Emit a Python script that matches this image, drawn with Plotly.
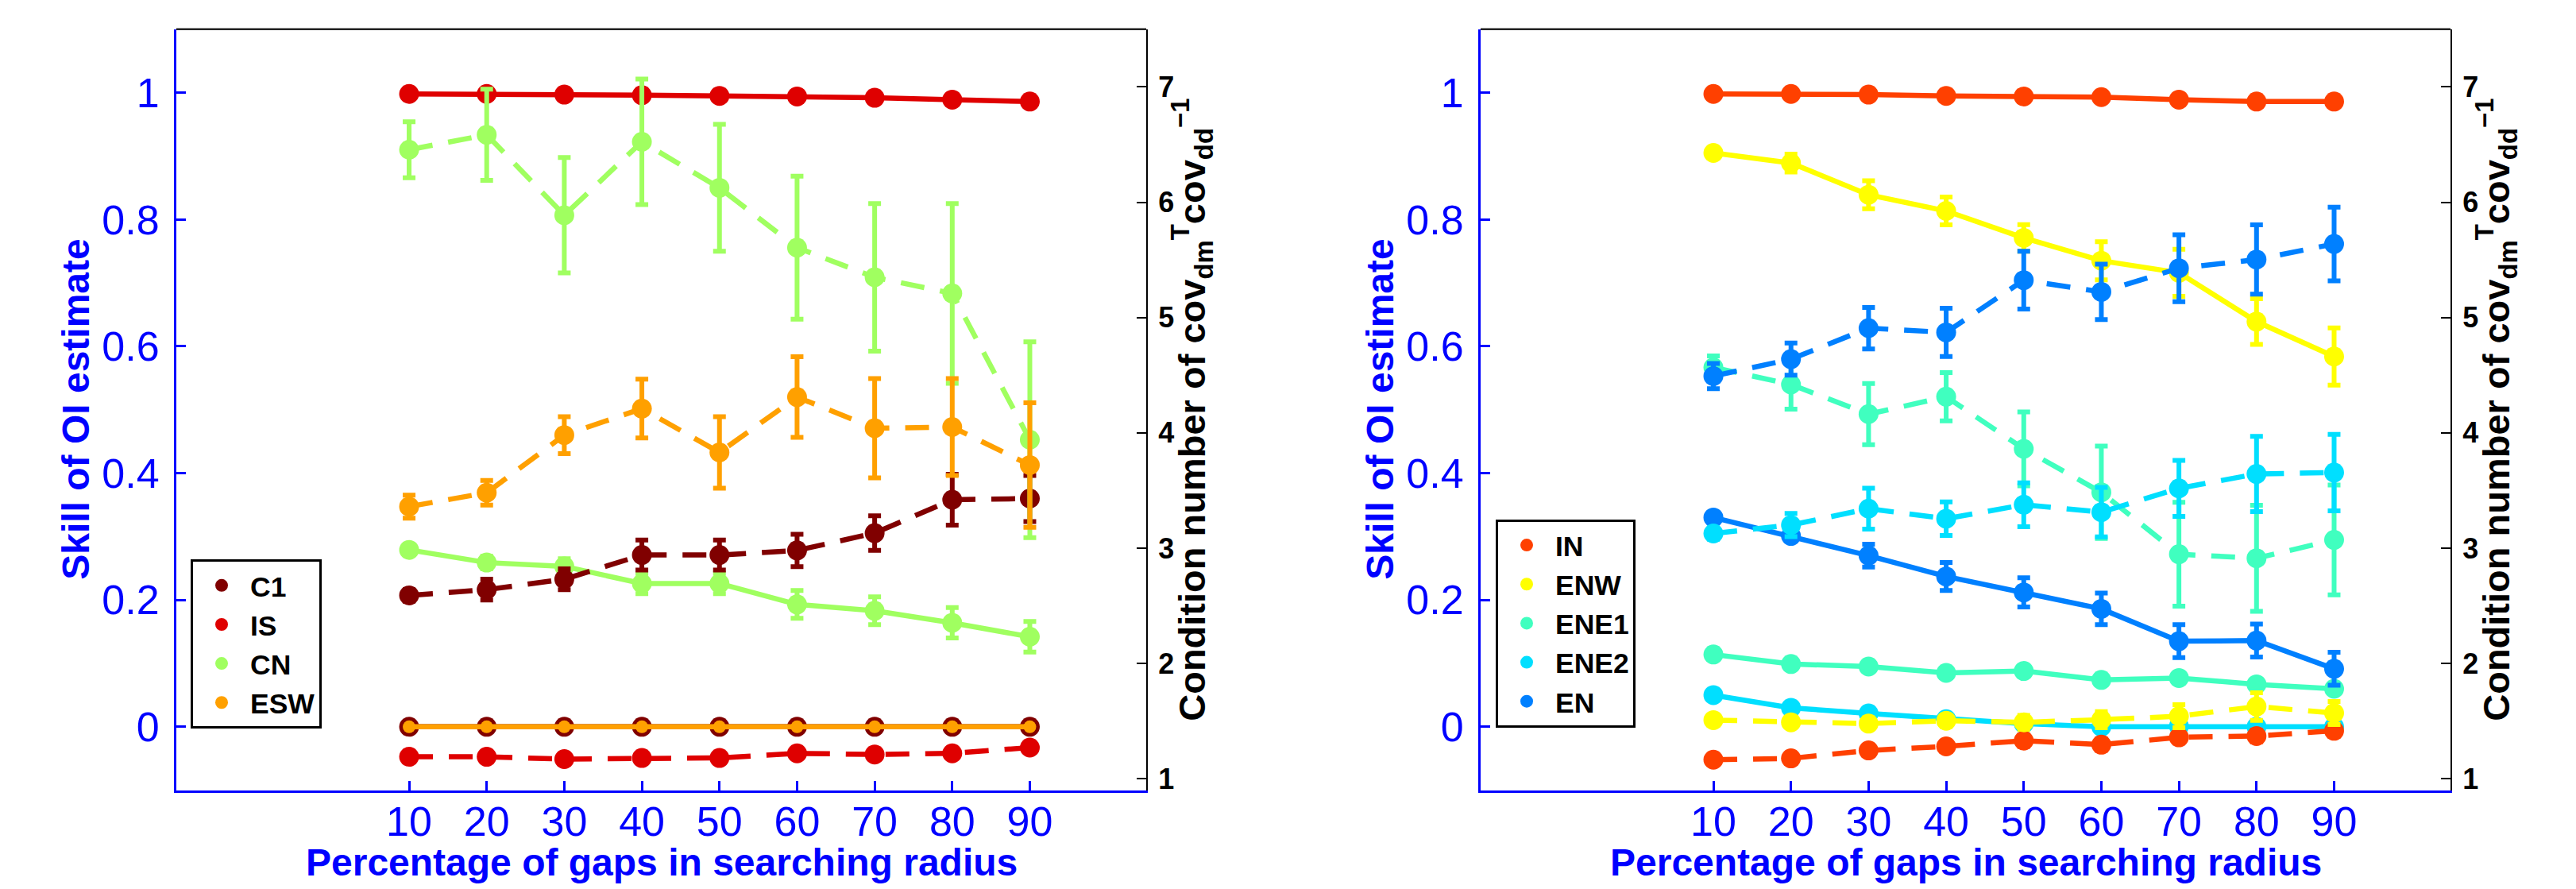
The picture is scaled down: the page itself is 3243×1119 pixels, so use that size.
import plotly.graph_objects as go

W, H = 3243, 1119

# ---------------- data ----------------
gaps = [10, 20, 30, 40, 50, 60, 70, 80, 90]
skill_ticks = [0, 0.2, 0.4, 0.6, 0.8, 1]
skill_ticktext = ["0", "0.2", "0.4", "0.6", "0.8", "1"]
cond_ticks = [1, 2, 3, 4, 5, 6, 7]
cond_ticktext = ["1", "2", "3", "4", "5", "6", "7"]

# left panel: skill (solid, left axis) and condition number (dashed, right axis)
left_names = ["C1", "IS", "CN", "ESW"]
left_colors = ["#800000", "#DF0000", "#A0FF60", "#FFA000"]

C1_skill = [0, 0, 0, 0, 0, 0, 0, 0, 0]
IS_skill = [0.998, 0.998, 0.997, 0.996, 0.995, 0.994, 0.992, 0.989, 0.986]
CN_skill = [0.279, 0.259, 0.253, 0.226, 0.226, 0.193, 0.183, 0.164, 0.142]
CN_skill_err = [0.008, 0.010, 0.012, 0.016, 0.016, 0.022, 0.022, 0.024, 0.024]
ESW_skill = [0, 0, 0, 0, 0, 0, 0, 0, 0]

C1_cond = [2.59, 2.64, 2.73, 2.94, 2.94, 2.98, 3.13, 3.42, 3.43]
C1_cond_err = [0.05, 0.09, 0.09, 0.13, 0.13, 0.14, 0.15, 0.22, 0.20]
IS_cond = [1.19, 1.19, 1.17, 1.18, 1.18, 1.22, 1.21, 1.22, 1.27]
CN_cond = [6.455, 6.585, 5.887, 6.524, 6.125, 5.606, 5.349, 5.209, 3.94]
CN_cond_err = [0.243, 0.395, 0.50, 0.545, 0.55, 0.62, 0.64, 0.78, 0.85]
ESW_cond = [3.36, 3.48, 3.98, 4.21, 3.83, 4.31, 4.04, 4.05, 3.72]
ESW_cond_err = [0.10, 0.107, 0.16, 0.255, 0.31, 0.35, 0.43, 0.42, 0.54]

# right panel
right_names = ["IN", "ENW", "ENE1", "ENE2", "EN"]
right_colors = ["#FF4000", "#FFFF00", "#40FFBF", "#00DFFF", "#0080FF"]

IN_skill = [0.998, 0.998, 0.997, 0.995, 0.994, 0.993, 0.989, 0.986, 0.986]
ENW_skill = [0.905, 0.889, 0.839, 0.8135, 0.771, 0.735, 0.716, 0.639, 0.584]
ENW_skill_err = [0.008, 0.014, 0.022, 0.022, 0.021, 0.030, 0.037, 0.036, 0.045]
ENE1_skill = [0.114, 0.099, 0.095, 0.085, 0.088, 0.074, 0.077, 0.067, 0.060]
ENE2_skill = [0.050, 0.030, 0.021, 0.012, 0.005, 0.000, 0.001, 0.000, 0.000]
EN_skill = [0.330, 0.301, 0.270, 0.237, 0.212, 0.186, 0.135, 0.136, 0.0915]
EN_skill_err = [0.004, 0.008, 0.018, 0.022, 0.023, 0.025, 0.026, 0.026, 0.026]

IN_cond = [1.165, 1.176, 1.245, 1.28, 1.33, 1.295, 1.359, 1.37, 1.416]
IN_cond_err = [0.03, 0.03, 0.04, 0.04, 0.05, 0.05, 0.05, 0.05, 0.05]
ENW_cond = [1.508, 1.489, 1.478, 1.503, 1.489, 1.512, 1.542, 1.626, 1.569]
ENW_cond_err = [0.04, 0.04, 0.04, 0.05, 0.06, 0.07, 0.10, 0.12, 0.10]
ENE1_cond = [4.567, 4.419, 4.162, 4.313, 3.861, 3.484, 2.947, 2.912, 3.071]
ENE1_cond_err = [0.10, 0.214, 0.265, 0.21, 0.32, 0.40, 0.45, 0.46, 0.476]
ENE2_cond = [3.127, 3.20, 3.342, 3.255, 3.376, 3.312, 3.518, 3.643, 3.655]
ENE2_cond_err = [0.05, 0.10, 0.177, 0.146, 0.19, 0.215, 0.243, 0.326, 0.331]
EN_cond = [4.492, 4.639, 4.908, 4.871, 5.324, 5.222, 5.427, 5.503, 5.638]
EN_cond_err = [0.11, 0.14, 0.18, 0.21, 0.25, 0.24, 0.29, 0.30, 0.32]

left_skill = [C1_skill, IS_skill, CN_skill, ESW_skill]
left_skill_err = [None, None, CN_skill_err, None]
left_cond = [C1_cond, IS_cond, CN_cond, ESW_cond]
left_cond_err = [C1_cond_err, None, CN_cond_err, ESW_cond_err]

right_skill = [IN_skill, ENW_skill, ENE1_skill, ENE2_skill, EN_skill]
right_skill_err = [None, ENW_skill_err, None, None, EN_skill_err]
right_cond = [IN_cond, ENW_cond, ENE1_cond, ENE2_cond, EN_cond]
right_cond_err = [IN_cond_err, ENW_cond_err, ENE1_cond_err, ENE2_cond_err, EN_cond_err]

# ---------------- style ----------------
FONT = "Liberation Sans, Arial, Helvetica, sans-serif"
BLUE = "#0000FF"
LW = 6.5
MS = 25
DASH = "30px,20px"

fig = go.Figure()


def err(arr, color):
    if arr is None:
        return dict(visible=False)
    return dict(type="data", array=arr, visible=True, color=color,
                thickness=6, width=8)


def add_panel(names, colors, skills, skill_errs, conds, cond_errs,
              xa, ya, ya2, legend, small_marker_name=None):
    # solid (skill) traces on left axis
    for n, c, s, e in zip(names, colors, skills, skill_errs):
        ms = 16 if n == small_marker_name else MS
        fig.add_trace(go.Scatter(
            x=gaps, y=s, mode="lines+markers", name=n, showlegend=False,
            line=dict(color=c, width=LW), marker=dict(color=c, size=ms),
            error_y=err(e, c), xaxis=xa, yaxis=ya))
    # dashed (condition number) traces on right axis
    for n, c, s, e in zip(names, colors, conds, cond_errs):
        fig.add_trace(go.Scatter(
            x=gaps, y=s, mode="lines+markers", name=n, showlegend=False,
            line=dict(color=c, width=LW, dash=DASH), marker=dict(color=c, size=MS),
            error_y=err(e, c), xaxis=xa, yaxis=ya2))
    # legend entries (markers only)
    for n, c in zip(names, colors):
        fig.add_trace(go.Scatter(
            x=[None], y=[None], mode="markers", name=n, showlegend=True,
            marker=dict(color=c, size=MS), xaxis=xa, yaxis=ya, legend=legend))


add_panel(left_names, left_colors, left_skill, left_skill_err, left_cond,
          left_cond_err, "x", "y", "y2", "legend", small_marker_name="ESW")
add_panel(right_names, right_colors, right_skill, right_skill_err, right_cond,
          right_cond_err, "x3", "y3", "y4", "legend2")

# ---------------- layout ----------------
ydom = [1 - 992 / H, 1 - 29 / H]
xdom1 = [214 / W, 1435 / W]
xdom2 = [1856 / W, 3077 / W]

xcommon = dict(range=[-20, 105], tickvals=gaps, ticks="inside", ticklen=12,
               tickwidth=2.5, tickcolor=BLUE, showline=True, linecolor=BLUE,
               linewidth=3, showgrid=False, zeroline=False,
               tickfont=dict(family=FONT, size=52, color=BLUE))
ycommon = dict(range=[-0.1, 1.1], domain=ydom, tickvals=skill_ticks,
               ticktext=skill_ticktext, ticks="inside", ticklen=12,
               tickwidth=2.5, tickcolor=BLUE, showline=True, linecolor=BLUE,
               linewidth=3, showgrid=False, zeroline=False,
               tickfont=dict(family=FONT, size=52, color=BLUE),
               ticklabelstandoff=8)
y2common = dict(range=[0.9, 7.5], tickvals=cond_ticks, ticktext=cond_ticktext,
                side="right", ticks="inside", ticklen=12, tickwidth=2,
                tickcolor="black", showline=True, linecolor="black",
                linewidth=2, showgrid=False, zeroline=False,
                tickfont=dict(family=FONT, size=36, color="black", weight="bold"),
                ticklabelstandoff=6)

legend_font = dict(family=FONT, size=35.5, color="black", weight="bold")
fig.update_layout(
    width=W, height=H, autosize=False,
    margin=dict(l=0, r=0, t=0, b=0),
    paper_bgcolor="white", plot_bgcolor="white",
    xaxis=dict(domain=xdom1, anchor="y", **xcommon),
    yaxis=dict(anchor="x", **ycommon),
    yaxis2=dict(anchor="x", overlaying="y", **y2common),
    xaxis3=dict(domain=xdom2, anchor="y3", **xcommon),
    yaxis3=dict(anchor="x3", **ycommon),
    yaxis4=dict(anchor="x3", overlaying="y3", **y2common),
    legend=dict(x=232 / W, y=1 - 700 / H, xanchor="left", yanchor="top",
                bgcolor="white", bordercolor="black", borderwidth=3,
                font=legend_font, itemwidth=62, traceorder="normal"),
    legend2=dict(x=1875 / W, y=1 - 649 / H, xanchor="left", yanchor="top",
                 bgcolor="white", bordercolor="black", borderwidth=3,
                 font=legend_font, itemwidth=62, traceorder="normal"),
    showlegend=True,
)

# pull the x tick labels up closer to the axis
try:
    fig.update_layout(xaxis_ticklabelstandoff=-8, xaxis3_ticklabelstandoff=-8)
except Exception:
    fig.update_layout(xaxis_ticklabelstandoff=0, xaxis3_ticklabelstandoff=0)

# top borders of both axes boxes
for xr, yr in [("x domain", "y domain"), ("x3 domain", "y3 domain")]:
    fig.add_shape(type="line", xref=xr, yref=yr, x0=0, x1=1, y0=1, y1=1,
                  line=dict(color="#222222", width=2.5))

# axis titles
title_font_blue = dict(family=FONT, size=48, color=BLUE, weight="bold")
title_font_black = dict(family=FONT, size=47, color="black", weight="bold")
cond_title = "Condition number of cov<sub>dm</sub><sup>T</sup>cov<sub>dd</sub><sup>\u22121</sup>"
for off in [0, 1642]:
    fig.add_annotation(text="Skill of OI estimate", x=(88 + off) / W, y=1 - 510.5 / H,
                       xref="paper", yref="paper", textangle=-90, showarrow=False,
                       xanchor="center", yanchor="middle", font=title_font_blue)
    fig.add_annotation(text=cond_title, x=(1493 + off) / W, y=1 - 510.5 / H,
                       xref="paper", yref="paper", textangle=-90, showarrow=False,
                       xanchor="center", yanchor="middle", font=title_font_black)
    fig.add_annotation(text="Percentage of gaps in searching radius",
                       x=(824.5 + off) / W, y=1 - 1083 / H,
                       xref="paper", yref="paper", showarrow=False,
                       xanchor="center", yanchor="middle", font=title_font_blue)

fig.write_html("out.html")
